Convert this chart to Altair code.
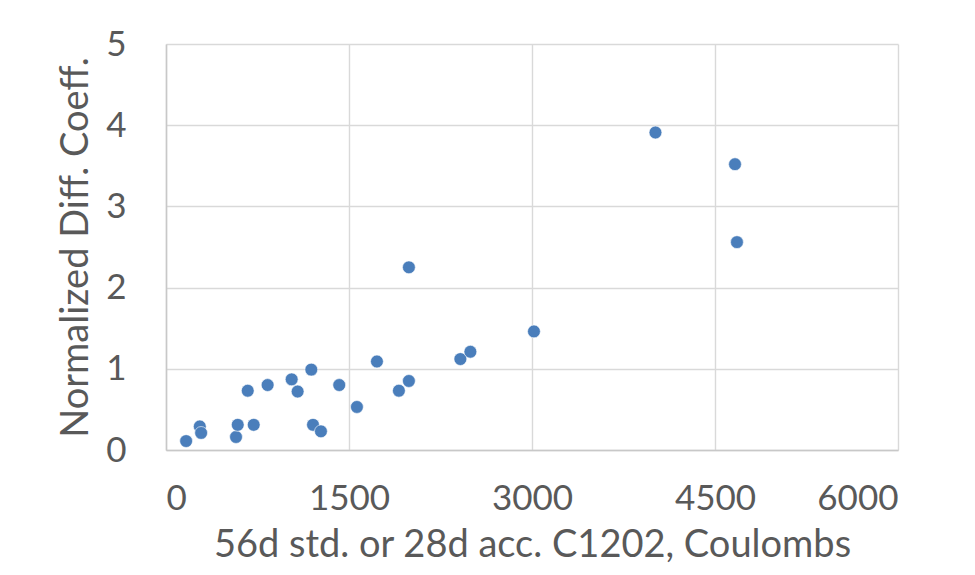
import altair as alt
import pandas as pd

coulombs = [165, 277, 288, 574, 588, 719, 670, 833, 1030, 1079, 1191, 1205, 1270,
            1420, 1565, 1729, 1909, 1991, 1991, 2413, 2495, 3016, 4012, 4664, 4680]
diff_coeff = [0.11, 0.29, 0.21, 0.16, 0.31, 0.31, 0.73, 0.80, 0.87, 0.72, 0.99, 0.31, 0.23,
              0.80, 0.53, 1.09, 0.73, 0.85, 2.25, 1.12, 1.21, 1.46, 3.91, 3.52, 2.56]

df = pd.DataFrame({"x": coulombs, "y": diff_coeff})

FONT = "Lato"
TXT = "#595959"

chart = alt.Chart(df).mark_circle(
    size=165, color="#4a7ebb", opacity=1, stroke="white", strokeWidth=0.6
).encode(
    x=alt.X("x:Q", scale=alt.Scale(domain=[0, 6000], nice=False),
            axis=alt.Axis(values=[0, 1500, 3000, 4500, 6000], format="d",
                          title="56d std. or 28d acc. C1202, Coulombs",
                          labelPadding=31, titlePadding=10)),
    y=alt.Y("y:Q", scale=alt.Scale(domain=[0, 5], nice=False),
            axis=alt.Axis(values=[0, 1, 2, 3, 4, 5], format="d",
                          title="Normalized Diff. Coeff.",
                          labelPadding=40, titlePadding=10)),
).properties(
    width=732, height=406,
    autosize=alt.AutoSizeParams(type="none"),
    padding={"left": 166, "top": 44, "right": 77, "bottom": 125},
    background="white",
).configure_axis(
    labelFont=FONT, titleFont=FONT, labelFontSize=35, titleFontSize=38,
    labelColor=TXT, titleColor=TXT, titleFontWeight="normal",
    grid=True, gridColor="#d9d9d9", gridWidth=1.4,
    domainColor="#c8c8c8", domainWidth=1.5, ticks=False,
).configure_view(stroke=None)

chart.save("out.html", embed_options={"renderer": "svg", "actions": False})
